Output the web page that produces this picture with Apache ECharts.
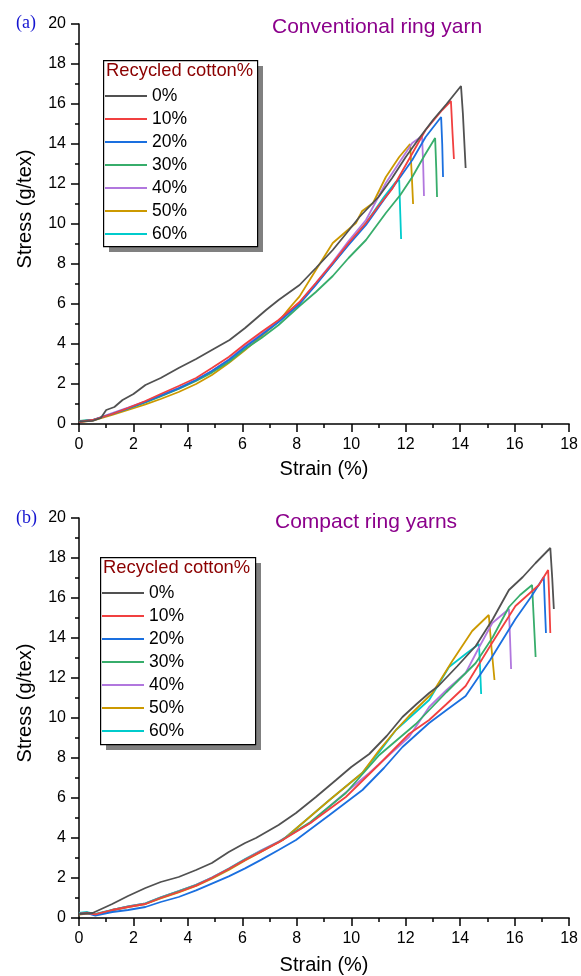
<!DOCTYPE html>
<html>
<head>
    <meta charset="utf-8">
    <title>Stress-strain curves</title>
    <script src="https://cdn.jsdelivr.net/npm/echarts@6/dist/echarts.min.js"></script>
    <style>
        html, body { margin: 0; padding: 0; background: #fff; }
        #chart1 { width: 581px; height: 976px; }
    </style>
</head>
<body>
<div id="chart1"></div>
<script type="text/javascript">
    // 图例名称与颜色
    var names = ['0%', '10%', '20%', '30%', '40%', '50%', '60%'];
    var colors = ['#515151', '#F14040', '#1A6FDF', '#37AD6B', '#B177DE', '#CC9900', '#00CBCC'];

    // (a) Conventional ring yarn : [strain, stress]
    var a0 = [[0,0.12],[0.5,0.16],[0.8,0.3],[1.0,0.7],[1.3,0.85],[1.6,1.2],[2.0,1.5],[2.44,1.95],[3.0,2.3],[3.66,2.8],[4.3,3.25],[4.88,3.7],[5.53,4.2],[6.1,4.8],[6.87,5.7],[7.33,6.2],[8.1,6.95],[8.7,7.8],[9.32,8.7],[9.8,9.5],[10.3,10.35],[11.0,11.35],[11.5,12.3],[12.0,13.35],[12.5,14.3],[13.0,15.2],[13.5,16.0],[14.03,16.9],[14.1,15.5],[14.2,12.8]];
    var a1 = [[0,0.1],[0.5,0.2],[1.22,0.5],[1.8,0.8],[2.44,1.15],[3.0,1.5],[3.66,1.9],[4.3,2.3],[4.88,2.8],[5.5,3.35],[6.1,4.0],[6.7,4.6],[7.33,5.2],[8.1,6.1],[8.7,7.05],[9.32,8.05],[9.9,9.05],[10.54,10.05],[11.0,10.9],[11.5,11.75],[12.0,12.95],[12.73,14.7],[13.34,15.7],[13.66,16.15],[13.72,14.5],[13.77,13.25]];
    var a2 = [[0,0.12],[0.5,0.2],[1.22,0.5],[1.8,0.78],[2.44,1.1],[3.0,1.42],[3.66,1.78],[4.3,2.2],[4.88,2.65],[5.5,3.2],[6.1,3.85],[6.7,4.45],[7.33,5.1],[8.1,6.0],[8.7,6.95],[9.32,8.0],[9.9,8.95],[10.54,9.95],[11.27,11.35],[11.8,12.35],[12.24,13.2],[12.73,14.35],[13.1,15.0],[13.3,15.35],[13.34,14.0],[13.37,12.35]];
    var a3 = [[0,0.15],[0.5,0.2],[1.22,0.5],[1.8,0.77],[2.44,1.08],[3.0,1.38],[3.66,1.75],[4.3,2.15],[4.88,2.57],[5.5,3.1],[6.1,3.75],[6.7,4.3],[7.33,4.95],[8.1,5.9],[8.7,6.6],[9.32,7.4],[9.9,8.3],[10.54,9.2],[11.27,10.55],[11.8,11.45],[12.24,12.35],[12.7,13.45],[13.08,14.3],[13.12,12.8],[13.15,11.35]];
    var a4 = [[0,0.12],[0.5,0.2],[1.22,0.55],[1.8,0.82],[2.44,1.13],[3.0,1.45],[3.66,1.8],[4.3,2.2],[4.88,2.65],[5.5,3.22],[6.1,3.9],[6.7,4.5],[7.33,5.15],[8.1,6.08],[8.7,7.05],[9.32,8.1],[9.9,9.15],[10.54,10.2],[11.27,12.05],[11.8,13.15],[12.24,14.05],[12.6,14.4],[12.64,13.0],[12.67,11.4]];
    var a5 = [[0,0.1],[0.5,0.17],[1.22,0.45],[1.8,0.7],[2.44,0.98],[3.0,1.25],[3.66,1.6],[4.3,2.0],[4.88,2.45],[5.5,3.05],[6.1,3.7],[6.7,4.4],[7.33,5.12],[7.73,5.8],[8.1,6.38],[8.7,7.7],[9.32,9.05],[10.17,10.05],[10.4,10.65],[10.8,11.05],[11.27,12.35],[11.76,13.35],[12.16,14.0],[12.22,12.5],[12.27,11.0]];
    var a6 = [[0,0.14],[0.5,0.2],[1.22,0.52],[1.8,0.8],[2.44,1.12],[3.0,1.42],[3.66,1.78],[4.3,2.2],[4.88,2.62],[5.5,3.2],[6.1,3.88],[6.7,4.48],[7.33,5.12],[8.1,6.05],[8.7,7.0],[9.32,8.0],[9.9,9.0],[10.54,10.05],[11.2,11.35],[11.63,12.1],[11.76,12.2],[11.8,10.5],[11.83,9.25]];

    // (b) Compact ring yarns : [strain, stress]
    var b0 = [[0,0.2],[0.5,0.25],[1.22,0.7],[1.8,1.1],[2.44,1.5],[3.0,1.8],[3.66,2.05],[4.3,2.4],[4.88,2.75],[5.5,3.3],[6.1,3.75],[6.5,4.0],[7.33,4.65],[7.97,5.25],[8.7,6.05],[9.44,6.9],[10.0,7.55],[10.66,8.2],[11.3,9.1],[11.88,10.05],[12.4,10.7],[12.86,11.25],[13.2,11.6],[13.9,12.6],[14.57,13.6],[15.2,14.95],[15.79,16.4],[16.3,17.05],[16.77,17.75],[17.31,18.5],[17.38,17.0],[17.44,15.45]];
    var b1 = [[0,0.2],[0.3,0.25],[0.6,0.18],[1.22,0.4],[1.8,0.55],[2.44,0.7],[3.0,1.0],[3.66,1.3],[4.3,1.62],[4.88,2.0],[5.5,2.45],[6.1,2.9],[6.7,3.33],[7.33,3.78],[8.5,4.75],[9.8,6.05],[11.0,7.65],[12.12,9.2],[12.86,9.9],[13.5,10.7],[14.2,11.6],[15.1,13.6],[16.03,15.6],[16.89,16.65],[17.23,17.4],[17.27,16.0],[17.31,14.25]];
    var b2 = [[0,0.2],[0.3,0.24],[0.6,0.12],[1.22,0.3],[1.8,0.4],[2.44,0.55],[3.0,0.8],[3.66,1.05],[4.3,1.38],[4.88,1.72],[5.5,2.08],[6.1,2.48],[6.7,2.92],[7.33,3.4],[7.97,3.9],[9.2,5.15],[10.41,6.4],[11.2,7.5],[11.88,8.55],[12.86,9.75],[13.5,10.4],[14.2,11.1],[15.1,12.9],[16.03,14.95],[16.6,16.05],[17.07,17.05],[17.11,15.6],[17.15,14.25]];
    var b3 = [[0,0.22],[0.3,0.27],[0.6,0.18],[1.22,0.4],[1.8,0.57],[2.44,0.72],[3.0,1.02],[3.66,1.33],[4.3,1.65],[4.88,2.0],[5.5,2.45],[6.1,2.92],[6.7,3.35],[7.33,3.8],[8.5,4.8],[9.8,6.25],[11.03,8.15],[12.37,9.7],[13.5,11.3],[14.57,12.75],[15.2,14.05],[15.79,15.55],[16.2,16.15],[16.64,16.65],[16.7,15.0],[16.77,13.05]];
    var b4 = [[0,0.22],[0.3,0.27],[0.6,0.18],[1.22,0.4],[1.8,0.58],[2.44,0.73],[3.0,1.03],[3.66,1.34],[4.3,1.66],[4.88,2.02],[5.5,2.46],[6.1,2.94],[6.7,3.38],[7.33,3.82],[8.5,4.75],[9.6,6.05],[10.66,7.25],[12.12,9.05],[12.86,10.55],[13.5,11.4],[14.2,12.25],[14.7,13.55],[15.18,14.75],[15.79,15.45],[15.83,14.0],[15.87,12.45]];
    var b5 = [[0,0.17],[0.3,0.22],[0.6,0.18],[1.22,0.38],[1.8,0.55],[2.44,0.7],[3.0,0.98],[3.66,1.28],[4.3,1.6],[4.88,1.97],[5.5,2.4],[6.1,2.88],[6.7,3.32],[7.48,3.9],[8.3,4.85],[9.2,5.9],[10.4,7.25],[11.03,8.4],[11.64,9.4],[12.12,10.1],[12.98,11.25],[13.71,12.85],[14.44,14.35],[15.05,15.15],[15.15,13.5],[15.26,11.9]];
    var b6 = [[0,0.25],[0.3,0.3],[0.6,0.2],[1.22,0.4],[1.8,0.58],[2.44,0.73],[3.0,1.03],[3.66,1.34],[4.3,1.66],[4.88,2.02],[5.5,2.47],[6.1,2.95],[6.7,3.38],[7.48,3.9],[8.3,4.85],[9.2,5.9],[10.4,7.25],[11.03,8.3],[11.64,9.4],[12.86,10.9],[13.59,12.55],[14.2,13.2],[14.69,13.7],[14.73,12.5],[14.77,11.2]];

    var dataA = [a0, a1, a2, a3, a4, a5, a6];
    var dataB = [b0, b1, b2, b3, b4, b5, b6];

    var font = 'Liberation Sans, Arial, sans-serif';
    var serif = 'Liberation Serif, Times New Roman, serif';

    function makeX(idx, gap) {
        return {
            type: 'value', gridIndex: idx, min: 0, max: 18, interval: 2,
            name: 'Strain (%)', nameLocation: 'middle', nameGap: gap,
            nameTextStyle: { fontSize: 20, color: '#000', fontFamily: font },
            axisLine: { show: true, lineStyle: { color: '#000', width: 1.5 } },
            axisTick: { show: true, length: 8, lineStyle: { color: '#000', width: 1.5 } },
            minorTick: { show: true, splitNumber: 2, length: 4, lineStyle: { color: '#000', width: 1.5 } },
            axisLabel: { fontSize: 16, color: '#000', fontFamily: font, margin: 13 },
            splitLine: { show: false }
        };
    }
    function makeY(idx) {
        return {
            type: 'value', gridIndex: idx, min: 0, max: 20, interval: 2,
            axisLine: { show: true, lineStyle: { color: '#000', width: 1.5 } },
            axisTick: { show: true, length: 8, lineStyle: { color: '#000', width: 1.5 } },
            minorTick: { show: true, splitNumber: 2, length: 4, lineStyle: { color: '#000', width: 1.5 } },
            axisLabel: { fontSize: 16, color: '#000', fontFamily: font, margin: 13 },
            splitLine: { show: false }
        };
    }

    var series = [];
    [dataA, dataB].forEach(function (set, g) {
        set.forEach(function (d, i) {
            series.push({
                name: names[i], type: 'line', xAxisIndex: g, yAxisIndex: g,
                data: d, symbol: 'none',
                lineStyle: { color: colors[i], width: 1.8 },
                itemStyle: { color: colors[i] },
                z: 10 - i
            });
        });
    });

    // 图例外框 + 阴影 + 标题
    function legendBox(x, y, w, h) {
        return [
            { type: 'rect', left: x + 6, top: y + 6, z: 20,
              shape: { width: w, height: h }, style: { fill: '#808080' } },
            { type: 'rect', left: x, top: y, z: 21,
              shape: { width: w, height: h }, style: { fill: '#fff', stroke: '#000', lineWidth: 1.2 } },
            { type: 'text', left: x + 3, top: y + 2, z: 22,
              style: { text: 'Recycled cotton%', fill: '#8B0000', font: '18.4px ' + font } }
        ];
    }
    function yName(cy) {
        return { type: 'text', x: 25, y: cy, rotation: Math.PI / 2, z: 5,
                 style: { text: 'Stress (g/tex)', fill: '#000', font: '20px ' + font, align: 'center', verticalAlign: 'middle' } };
    }

    function makeLegend(x, y) {
        return {
            orient: 'vertical', left: x, top: y, data: names, z: 30,
            itemWidth: 42, itemHeight: 14, itemGap: 5, padding: 0,
            icon: 'path://M0,6 L42,6 L42,8 L0,8 Z',
            selectedMode: false,
            textStyle: { fontSize: 17.5, lineHeight: 18, color: '#000', fontFamily: font }
        };
    }

    var myChart1 = echarts.init(document.getElementById('chart1'));
    myChart1.setOption({
        backgroundColor: '#fff',
        animation: false,
        title: [
            { text: '(a)', left: 11, top: 9, textStyle: { color: '#1414D0', fontSize: 18, fontWeight: 'normal', fontFamily: serif } },
            { text: 'Conventional ring yarn', left: 267, top: 12, textStyle: { color: '#8B008B', fontSize: 21, fontWeight: 'normal', fontFamily: font } },
            { text: '(b)', left: 11, top: 504, textStyle: { color: '#1414D0', fontSize: 18, fontWeight: 'normal', fontFamily: serif } },
            { text: 'Compact ring yarns', left: 270, top: 507, textStyle: { color: '#8B008B', fontSize: 21, fontWeight: 'normal', fontFamily: font } }
        ],
        grid: [
            { left: 79, top: 24, right: 11, height: 400 },
            { left: 79, top: 518, right: 11, height: 400 }
        ],
        xAxis: [makeX(0, 35), makeX(1, 37)],
        yAxis: [makeY(0), makeY(1)],
        legend: [makeLegend(105, 87), makeLegend(102, 584)],
        graphic: legendBox(103, 60, 154, 186).concat(legendBox(100, 557, 155, 187), [yName(209), yName(703)]),
        series: series
    });
</script>
</body>
</html>
